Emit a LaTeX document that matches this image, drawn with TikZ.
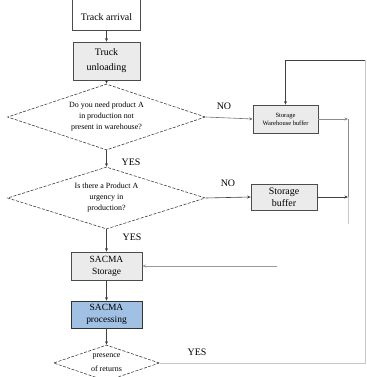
\documentclass[tikz,border=0pt]{standalone}
\usepackage{fontspec}
\setmainfont{Liberation Serif}
\usetikzlibrary{shapes.geometric,arrows.meta}
\begin{document}
\begin{tikzpicture}[x=1bp,y=-1bp,
  box/.style={draw=black!70, fill=black!8, line width=0.7bp, inner sep=0pt, align=center,
    font=\fontsize{9.5}{12}\selectfont},
  dia/.style={diamond, draw=black!75, dashed, dash pattern=on 3bp off 1.5bp, line width=0.6bp,
    inner sep=0pt, aspect=3, align=center, font=\fontsize{8}{11}\selectfont},
  arr/.style={-{Stealth[length=3.5bp,width=3bp]}, draw=black!75, line width=0.6bp},
  ln/.style={draw=black!70, line width=0.7bp},
  faint/.style={draw=black!22, line width=0.6bp},
  lbl/.style={font=\fontsize{10}{11}\selectfont, inner sep=0pt}]
\useasboundingbox (0,0) rectangle (367,377);
\clip (0,0) rectangle (367,377);
% boxes
\node[box, fill=white, draw=none, minimum width=67bp, minimum height=26bp, font=\fontsize{10}{12}\selectfont] (arrival) at (106.5,17) {Track arrival};
\draw[ln] ([yshift=20bp]arrival.north west) -- (arrival.south west) -- (arrival.south east) -- ([yshift=20bp]arrival.north east);
\node[box, minimum width=67bp, minimum height=38bp, font=\fontsize{10}{15}\selectfont] (unload) at (106.5,61) {Truck\\unloading};
\node[box, minimum width=65bp, minimum height=28bp, font=\fontsize{6.5}{8}\selectfont] (whbuf) at (285.5,119) {Storage\\Warehouse buffer};
\node[box, minimum width=66bp, minimum height=26bp, font=\fontsize{10}{12}\selectfont] (buf) at (284,197) {Storage\\buffer};
\node[box, minimum width=71bp, minimum height=28bp] (sstore) at (106.5,266) {SACMA\\Storage};
\node[box, fill={rgb,255:red,160;green,192;blue,228}, draw=black!80, minimum width=71bp, minimum height=27bp] (sproc) at (106.5,314.5) {SACMA\\processing};
% diamonds
\node[dia, minimum width=198bp, minimum height=66bp] (d1) at (106.5,117) {Do you need product A\\in production not\\present in warehouse?};
\node[dia, minimum width=198bp, minimum height=62bp] (d2) at (106.5,198) {Is there a Product A\\urgency in\\production?};
\node[dia, minimum width=106bp, minimum height=36bp, font=\fontsize{8}{14}\selectfont] (d3) at (106.5,363) {presence\\of returns};
% labels
\node[lbl] (yes1) at (131,162) {YES};
\node[lbl] (no1) at (224,106) {NO};
\node[lbl] (no2) at (228,183) {NO};
\node[lbl] (yes2) at (132,237) {YES};
\node[lbl] (yes3) at (197,352) {YES};
% helper coordinates
\coordinate (c1) at (348,119);
\coordinate (c2) at (348,197);
\coordinate (c4) at (348,224);
\coordinate (s1) at (277,266);
\coordinate (r1) at (365,363);
\coordinate (r2) at (365,60);
\coordinate (r3) at (285.5,60);
% connectors
\draw[arr] (arrival) -- (unload);
\draw[arr] (unload) -- (d1);
\draw[arr] (d1) -- (d2);
\draw[arr] (d2) -- (sstore);
\draw[arr] (sstore) -- (sproc);
\draw[arr] (sproc) -- (d3);
\draw[arr, draw=black!55] (d1.east) -- (whbuf.west);
\draw[arr] (d2.east) -- (buf.west);
\draw[arr, draw=black!45] (whbuf.east) -- (c1);
\draw[arr] (buf.east) -- (c2);
\draw[draw=black!45, line width=0.6bp] (c1) -- (c2);
\draw[faint] (c2) -- (c4);
\draw[arr, draw=black!40] (s1) -- (sstore.east);
\draw[faint] (d3.east) -- (r1) -- (r2);
\draw[arr] (r2) -- (r3) -- (whbuf.north);
\end{tikzpicture}
\end{document}
